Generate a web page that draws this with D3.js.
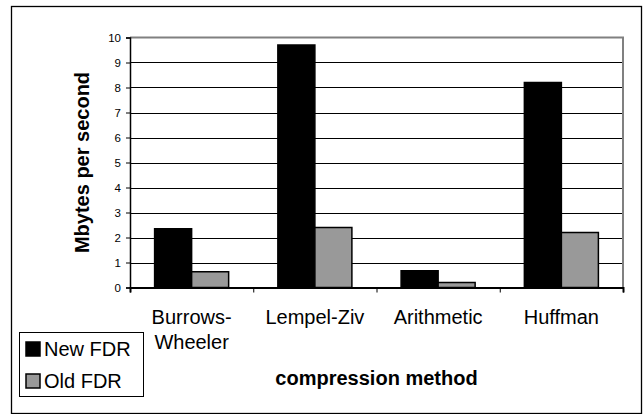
<!DOCTYPE html>
<html>
<head>
<meta charset="utf-8">
<script src="https://cdn.jsdelivr.net/npm/d3@7"></script>
<style>
html,body{margin:0;padding:0;background:#fff;}
svg{display:block;}
text{font-family:"Liberation Sans",Arimo,Arial,sans-serif;fill:#000;}
</style>
</head>
<body>
<script>
const categories = [["Burrows-","Wheeler"],["Lempel-Ziv"],["Arithmetic"],["Huffman"]];
const seriesNames = ["New FDR","Old FDR"];
const newFDR = [2.35, 9.7, 0.67, 8.2];
const oldFDR = [0.63, 2.4, 0.2, 2.2];
const yTicks = [0,1,2,3,4,5,6,7,8,9,10];
const colors = ["#000000","#999999"];

const W = 644, H = 414;
const FONT = "'Liberation Sans',Arimo,Arial,sans-serif";
const svg = d3.select("body").append("svg").attr("width", W).attr("height", H);

// outer border
svg.append("rect").attr("x",11.5).attr("y",6.5).attr("width",630).attr("height",407)
  .attr("fill","#fff").attr("stroke","#000").attr("stroke-width",1.3);

const plot = {left:130, right:623, top:37.5, bottom:287.5};
const x0 = d3.scaleBand().domain(d3.range(categories.length)).range([plot.left, plot.right]).paddingInner(0).paddingOuter(0);
const x1 = d3.scaleBand().domain([0,1]).range([0, x0.bandwidth()]).paddingOuter(0.665).paddingInner(0);
const y = d3.scaleLinear().domain([0,10]).range([plot.bottom, plot.top]);

// gridlines
svg.append("g").selectAll("line").data(yTicks.filter(d=>d>0 && d<10)).join("line")
  .attr("x1",plot.left).attr("x2",plot.right)
  .attr("y1",d=>Math.round(y(d))+0.5).attr("y2",d=>Math.round(y(d))+0.5)
  .attr("stroke","#000").attr("stroke-width",1);

// plot area border top & right (gray)
svg.append("path").attr("d",`M${plot.left},${plot.top}H${plot.right}V${plot.bottom}`)
  .attr("fill","none").attr("stroke","#808080").attr("stroke-width",2);

// bars
const data = categories.map((c,i)=>[newFDR[i], oldFDR[i]]);
const groups = svg.append("g").selectAll("g").data(data).join("g")
  .attr("transform",(d,i)=>`translate(${x0(i)},0)`);
groups.selectAll("rect").data(d=>d.map((v,j)=>({v,j}))).join("rect")
  .attr("x",d=>x1(d.j)).attr("width",x1.bandwidth())
  .attr("y",d=>y(d.v)).attr("height",d=>y(0)-y(d.v))
  .attr("fill",d=>colors[d.j]).attr("stroke","#000").attr("stroke-width",1.5);

// y axis
const yAxis = d3.axisLeft(y).tickValues(yTicks).tickSize(4).tickPadding(5);
const gy = svg.append("g").attr("transform",`translate(${plot.left},0)`).call(yAxis);
gy.attr("font-family",FONT);
gy.select(".domain").attr("stroke","#000").attr("stroke-width",1.5);
gy.selectAll(".tick line").attr("stroke","#000");
gy.selectAll(".tick text").attr("font-size","11.5px").attr("fill","#000");

// x axis (ticks at category boundaries)
const xb = d3.scaleLinear().domain([0,categories.length]).range([plot.left, plot.right]);
const gx = svg.append("g").attr("transform",`translate(0,${plot.bottom})`)
  .call(d3.axisBottom(xb).tickValues(d3.range(categories.length+1)).tickSize(5).tickFormat(""));
gx.select(".domain").attr("stroke","#000").attr("stroke-width",2);
gx.selectAll(".tick line").attr("stroke","#000");

// category labels
const cl = svg.append("g").selectAll("text").data(categories).join("text")
  .attr("x",(d,i)=>x0(i)+x0.bandwidth()/2).attr("y",324)
  .attr("text-anchor","middle").attr("font-size","20px");
cl.selectAll("tspan").data(d=>d).join("tspan")
  .attr("x",function(){return this.parentNode.getAttribute("x");})
  .attr("dy",(d,k)=>k===0?0:25).text(d=>d);

// axis titles
svg.append("text").attr("transform",`translate(89,${(plot.top+plot.bottom)/2}) rotate(-90)`)
  .attr("text-anchor","middle").attr("font-size","20px").attr("font-weight","bold").text("Mbytes per second");
svg.append("text").attr("x",(plot.left+plot.right)/2).attr("y",385)
  .attr("text-anchor","middle").attr("font-size","20px").attr("font-weight","bold").text("compression method");

// legend
const lg = svg.append("g");
lg.append("rect").attr("x",19.5).attr("y",332.5).attr("width",124).attr("height",64)
  .attr("fill","#fff").attr("stroke","#000").attr("stroke-width",1);
const li = lg.selectAll("g").data(seriesNames).join("g")
  .attr("transform",(d,i)=>`translate(0,${i*32})`);
li.append("rect").attr("x",26).attr("y",342).attr("width",14).attr("height",14)
  .attr("fill",(d,i)=>colors[i]).attr("stroke","#000").attr("stroke-width",1.5);
li.append("text").attr("x",44).attr("y",356).attr("font-size","20px").text(d=>d);
</script>
</body>
</html>
